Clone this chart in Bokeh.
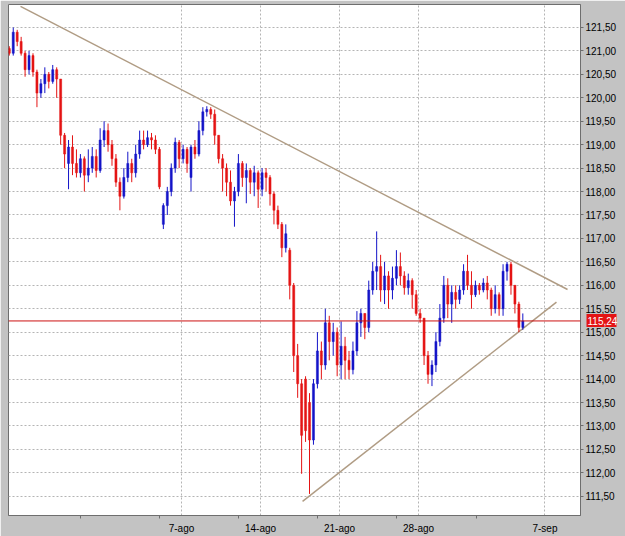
from bokeh.plotting import figure
from bokeh.models import (FixedTicker, CustomJSTickFormatter, Span, ColumnDataSource, Range1d,
                          LinearAxis)
from bokeh.embed import file_html
from bokeh.resources import INLINE

# ---- data (price bars, 4 per trading day) ----
bar_open = [121.05, 120.95, 121.40, 121.20, 120.95, 120.60, 120.90, 120.55, 120.10, 120.30,
            120.50, 120.35, 120.60, 120.40, 119.20, 118.60, 118.95, 118.60, 118.40, 118.70,
            118.35, 118.50, 118.75, 118.45, 119.10, 119.30, 119.00, 118.70, 118.20, 117.90,
            118.30, 118.60, 118.40, 118.80, 119.10, 119.00, 119.15, 119.10, 118.90, 117.30,
            117.70, 118.00, 118.50, 119.05, 118.70, 118.90, 118.30, 118.95, 118.80, 119.30,
            119.70, 119.75, 119.65, 119.20, 118.70, 118.50, 118.20, 117.80, 118.00, 118.60,
            118.30, 118.45, 118.20, 118.40, 118.05, 118.40, 118.30, 117.95, 117.60, 117.30,
            116.80, 116.75, 116.00, 114.50, 113.90, 114.00, 113.50, 112.70, 113.90, 114.60,
            114.30, 115.20, 114.80, 115.00, 114.30, 114.70, 114.40, 114.20, 114.60, 115.20,
            115.40, 115.10, 115.90, 116.30, 116.40, 115.90, 116.20, 115.90, 116.15, 116.40,
            116.20, 115.95, 116.10, 115.80, 115.40, 115.30, 114.50, 114.10, 114.30, 114.80,
            115.30, 116.00, 115.60, 115.85, 115.70, 115.90, 116.30, 116.00, 115.80, 116.00,
            115.90, 116.05, 115.90, 115.50, 115.80, 115.50, 116.30, 116.45, 116.00, 115.60,
            115.10]
bar_high = [121.10, 121.50, 121.45, 121.30, 121.00, 121.00, 120.95, 120.60, 120.40, 120.65,
            120.55, 120.70, 120.65, 120.40, 119.25, 119.10, 119.20, 118.90, 118.80, 118.75,
            118.90, 118.95, 118.90, 119.35, 119.50, 119.45, 119.10, 118.80, 118.30, 118.50,
            118.85, 118.70, 119.00, 119.30, 119.30, 119.30, 119.25, 119.20, 118.95, 117.75,
            118.10, 118.60, 119.15, 119.10, 119.00, 118.95, 119.00, 119.10, 119.50, 119.80,
            119.82, 119.80, 119.75, 119.20, 118.80, 118.60, 118.45, 118.10, 118.80, 118.65,
            118.60, 118.50, 118.55, 118.45, 118.50, 118.50, 118.35, 118.00, 117.70, 117.35,
            117.30, 116.80, 116.05, 114.75, 114.00, 114.06, 113.70, 114.00, 115.00, 114.80,
            115.50, 115.35, 115.20, 115.10, 115.23, 114.90, 114.60, 114.80, 115.45, 115.50,
            115.40, 116.10, 116.50, 117.15, 116.65, 116.50, 116.30, 116.40, 116.75, 116.70,
            116.30, 116.25, 116.15, 115.90, 115.50, 115.30, 114.60, 114.40, 115.00, 115.60,
            116.20, 116.15, 116.00, 116.00, 116.00, 116.45, 116.65, 116.30, 116.10, 116.05,
            116.15, 116.20, 115.95, 116.00, 115.85, 116.45, 116.50, 116.50, 116.00, 115.65,
            115.40]
bar_low = [120.90, 120.90, 121.10, 120.90, 120.45, 120.50, 120.45, 119.80, 120.00, 120.10,
           120.20, 120.30, 120.00, 119.00, 118.50, 118.05, 118.35, 118.30, 118.30, 118.00,
           118.20, 118.40, 118.30, 118.40, 118.95, 118.85, 118.55, 118.10, 117.60, 117.85,
           118.20, 118.20, 118.30, 118.70, 118.90, 118.95, 118.90, 118.80, 118.05, 117.20,
           117.50, 117.90, 118.40, 118.50, 118.60, 118.40, 118.00, 118.70, 118.75, 119.20,
           119.60, 119.55, 119.00, 118.60, 118.00, 117.90, 117.70, 117.25, 117.90, 118.10,
           117.75, 117.95, 117.90, 117.65, 117.90, 118.00, 117.70, 117.30, 117.20, 116.60,
           116.70, 115.70, 114.15, 113.60, 111.98, 112.66, 111.55, 112.60, 113.80, 114.00,
           114.20, 114.40, 114.50, 114.06, 114.00, 114.00, 114.00, 114.10, 114.50, 114.90,
           114.85, 115.00, 115.80, 115.90, 115.65, 115.60, 115.50, 115.70, 116.00, 116.00,
           115.80, 115.80, 115.50, 115.35, 115.20, 114.30, 113.90, 113.85, 114.15, 114.70,
           115.20, 115.30, 115.20, 115.50, 115.60, 115.80, 115.90, 115.50, 115.75, 115.80,
           115.85, 115.70, 115.35, 115.40, 115.35, 115.35, 116.10, 115.80, 115.40, 115.00,
           115.05]
bar_close = [120.95, 121.40, 121.20, 120.95, 120.60, 120.90, 120.55, 120.10, 120.30, 120.50,
             120.35, 120.60, 120.40, 119.20, 118.80, 118.95, 118.60, 118.40, 118.70, 118.35,
             118.50, 118.75, 118.45, 119.10, 119.30, 119.00, 118.70, 118.20, 117.90, 118.30,
             118.60, 118.40, 118.80, 119.10, 119.00, 119.15, 119.10, 118.90, 118.10, 117.70,
             118.00, 118.50, 119.05, 118.70, 118.90, 118.60, 118.95, 118.80, 119.30, 119.70,
             119.75, 119.65, 119.20, 118.70, 118.50, 118.20, 117.80, 118.00, 118.60, 118.30,
             118.45, 118.20, 118.40, 118.05, 118.40, 118.30, 117.95, 117.60, 117.30, 116.80,
             117.10, 116.00, 114.50, 113.90, 112.80, 112.90, 112.70, 113.90, 114.60, 114.30,
             115.20, 114.80, 115.00, 114.30, 114.70, 114.40, 114.20, 114.60, 115.20, 115.40,
             115.10, 115.90, 116.30, 116.40, 115.90, 116.20, 115.90, 116.15, 116.40, 116.20,
             115.95, 116.10, 115.80, 115.40, 115.30, 114.50, 114.10, 114.30, 114.80, 115.30,
             116.00, 115.60, 115.85, 115.70, 115.90, 116.30, 116.00, 115.80, 116.00, 115.90,
             116.05, 115.90, 115.50, 115.80, 115.50, 116.30, 116.45, 116.00, 115.60, 115.10,
             115.24]

first_bar_day = -10.9      # trading days relative to 7-ago
bars_per_day = 4

tick_days = [0, 5, 10, 15, 23]
tick_labels = ["7-ago", "14-ago", "21-ago", "28-ago", "7-sep"]
minor_tick_days = [-6.4, -1.4, 3.6, 8.6, 13.6, 18.65]
price_ticks = [111.5, 112.0, 112.5, 113.0, 113.5, 114.0, 114.5, 115.0, 115.5, 116.0,
               116.5, 117.0, 117.5, 118.0, 118.5, 119.0, 119.5, 120.0, 120.5, 121.0, 121.5]

last_price = 115.24
upper_trend_x = [-10.19, 24.43]
upper_trend_y = [121.95, 115.91]
lower_trend_x = [7.66, 23.73]
lower_trend_y = [111.39, 115.64]

UP = "#1414c8"
DOWN = "#e41414"
FONT = "Liberation Sans"
comma_fmt = "return tick.toFixed(2).replace('.', ',');"

n = len(bar_close)
days = [first_bar_day + i / bars_per_day for i in range(n)]
colors = [UP if c >= o else DOWN for o, c in zip(bar_open, bar_close)]
src = ColumnDataSource(dict(
    x=days, o=bar_open, h=bar_high, l=bar_low, c=bar_close,
    top=[max(o, c) for o, c in zip(bar_open, bar_close)],
    bot=[min(o, c) for o, c in zip(bar_open, bar_close)],
    color=colors,
))

p = figure(width=625, height=536, output_backend="svg", toolbar_location=None,
           x_range=Range1d(-10.95, 25.25), y_range=Range1d(111.09, 121.99),
           y_axis_location="right", min_border_left=8, min_border_right=45,
           min_border_top=4, min_border_bottom=19)
p.border_fill_color = "#c3c3c3"
p.background_fill_color = "white"
p.outline_line_color = "#6e6e6e"

# grid
p.xgrid.grid_line_color = "#b4b4b4"
p.xgrid.grid_line_dash = "2 2"
p.ygrid.grid_line_color = "#b4b4b4"
p.ygrid.grid_line_dash = "2 2"

# axes
xa = p.xaxis[0]
xa.ticker = FixedTicker(ticks=tick_days, minor_ticks=minor_tick_days)
xa.major_label_overrides = {d: t for d, t in zip(tick_days, tick_labels)}
xa.major_tick_out = 0
xa.major_tick_in = 0
xa.minor_tick_out = 3
xa.minor_tick_in = 0
xa.minor_tick_line_color = "#6e6e6e"
xa.axis_line_color = "#6e6e6e"
xa.major_label_standoff = 4
xa.major_label_text_font = FONT
xa.major_label_text_font_size = "10px"
xa.major_label_text_color = "black"

ya = p.yaxis[0]
ya.ticker = FixedTicker(ticks=price_ticks)
ya.formatter = CustomJSTickFormatter(code=comma_fmt)
ya.major_tick_out = 3
ya.major_tick_in = 0
ya.minor_tick_line_color = None
ya.major_tick_line_color = "#6e6e6e"
ya.axis_line_color = "#6e6e6e"
ya.major_label_standoff = 2
ya.major_label_text_font = FONT
ya.major_label_text_font_size = "10px"
ya.major_label_text_color = "black"

# last-price tag on the price scale: an extra right axis with a single, thick red tick
tag = LinearAxis(ticker=FixedTicker(ticks=[last_price]),
                 formatter=CustomJSTickFormatter(code=comma_fmt))
tag.axis_line_color = None
tag.minor_tick_line_color = None
tag.major_tick_in = 33
tag.major_tick_out = -3
tag.major_tick_line_width = 13
tag.major_tick_line_color = DOWN
tag.major_label_standoff = -32
tag.major_label_text_font = FONT
tag.major_label_text_font_size = "10px"
tag.major_label_text_color = "white"
p.add_layout(tag, "right")

# trend lines
p.line(upper_trend_x, upper_trend_y, line_color="#b09c84", line_width=1.5)
p.line(lower_trend_x, lower_trend_y, line_color="#b09c84", line_width=1.5)

# price bars
p.segment(x0="x", y0="h", x1="x", y1="l", color="color", line_width=1, source=src)
p.vbar(x="x", top="top", bottom="bot", width=0.13, fill_color="color",
       line_color="color", line_width=0.5, source=src)

# last price line
p.add_layout(Span(location=last_price, dimension="width", line_color="#cc1010", line_width=1))

open("out.html", "w").write(file_html(p, INLINE))
